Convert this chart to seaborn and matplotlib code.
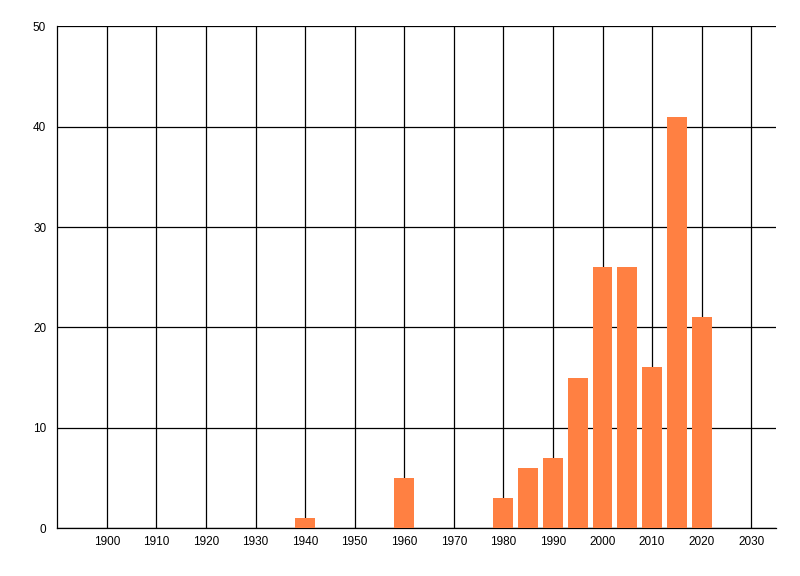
import matplotlib
matplotlib.use("Agg")
import matplotlib.pyplot as plt
import seaborn as sns
import pandas as pd

# data
years = [1940, 1960, 1980, 1985, 1990, 1995, 2000, 2005, 2010, 2015, 2020]
counts = [1, 5, 3, 6, 7, 15, 26, 26, 16, 41, 21]
xticks = list(range(1900, 2031, 10))
yticks = [0, 10, 20, 30, 40, 50]

df = pd.DataFrame({"year": years, "count": counts})

sns.set_style("white")
plt.rcParams["font.family"] = ["Liberation Sans", "DejaVu Sans"]

fig = plt.figure(figsize=(8, 5.76), dpi=100)
ax = fig.add_axes([0.0716, 0.0833, 0.8984, 0.871])

sns.barplot(data=df, x="year", y="count", native_scale=True, width=0.8,
            color="#FF8042", saturation=1, linewidth=0, ax=ax, zorder=3)

ax.set_xlim(1890, 2035)
ax.set_ylim(0, 50)
ax.set_xticks(xticks)
ax.set_yticks(yticks)
ax.set_xticklabels([str(t) for t in xticks])
ax.set_yticklabels([str(t) for t in yticks])
ax.set_xlabel("")
ax.set_ylabel("")

ax.grid(True, color="black", linewidth=0.9, zorder=0)
ax.set_axisbelow(True)
for side in ["top", "right"]:
    ax.spines[side].set_visible(False)
for side in ["left", "bottom"]:
    ax.spines[side].set_color("black")
    ax.spines[side].set_linewidth(0.9)

ax.tick_params(axis="x", length=0, pad=6, labelsize=8.5, colors="black")
ax.tick_params(axis="y", length=7, width=0.9, pad=1, labelsize=8.5, colors="black")

fig.savefig("out.png", dpi=100)
